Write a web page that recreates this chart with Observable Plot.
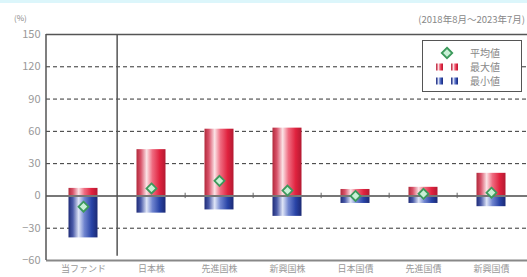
<!DOCTYPE html>
<html>
<head>
<meta charset="utf-8">
<script src="https://cdn.jsdelivr.net/npm/d3@7"></script>
<script src="https://cdn.jsdelivr.net/npm/@observablehq/plot@0.6"></script>
<style>
  html, body { margin: 0; padding: 0; background: #fff; }
  svg { display: block; }
</style>
</head>
<body>
<div id="chart"></div>
<script>
const categories = ["当ファンド", "日本株", "先進国株", "新興国株", "日本国債", "先進国債", "新興国債"];
const maxValues = [7, 43, 62, 63, 6, 8, 21];
const minValues = [-39, -16, -13, -19, -7, -7, -10];
const avgValues = [-10, 7, 14, 5, 0, 2, 3];
const yTicks = [-60, -30, 0, 30, 60, 90, 120, 150];
const gridTicks = [-30, 30, 60, 90, 120];
const legendLabels = ["平均値", "最大値", "最小値"];
const subtitle = "(2018年8月～2023年7月)";
const unitLabel = "(%)";

const rows = categories.map((c, i) => ({cat: c, max: maxValues[i], min: minValues[i], avg: avgValues[i]}));
const boundaries = categories.slice(2);

const font = "'Noto Sans CJK JP', 'Noto Sans', sans-serif";
const W = 527, H = 277;
const mL = 46, mT = 34, mB = 17, mR = 0;
const step = (W - mL - mR) / categories.length;

const plot = Plot.plot({
  width: W, height: H,
  marginLeft: mL, marginTop: mT, marginBottom: mB, marginRight: mR,
  style: {fontFamily: font, background: "transparent"},
  x: {domain: categories, padding: 0, label: null, tickSize: 0, tickPadding: 4},
  y: {domain: [-60, 150], ticks: yTicks, label: null, tickSize: 0, tickPadding: 5},
  marks: [
    Plot.ruleY(gridTicks, {stroke: "#333", strokeWidth: 1, strokeDasharray: "4,3"}),
    Plot.barY(rows, {x: "cat", y1: 0, y2: "max", fill: "url(#redGrad)", insetLeft: 19.5, insetRight: 19.5}),
    Plot.barY(rows, {x: "cat", y1: "min", y2: 0, fill: "url(#blueGrad)", insetLeft: 19.5, insetRight: 19.5}),
    Plot.ruleY([0], {stroke: "#777", strokeWidth: 2}),
    Plot.ruleX(boundaries, {x: d => d, y1: -2.5, y2: 2.5, dx: -step / 2, stroke: "#666", strokeWidth: 1}),
    Plot.ruleY([150], {stroke: "#555", strokeWidth: 1.5}),
    Plot.ruleY([-60], {stroke: "#888", strokeWidth: 2}),
    Plot.ruleX([categories[1]], {y1: -56, y2: 150, dx: -step / 2, stroke: "#555", strokeWidth: 1.5}),
    Plot.dot(rows, {x: "cat", y: "avg", symbol: "diamond2", r: 4.5, stroke: "#3c9a5c", strokeWidth: 1.8, fill: "#c9f0d6"}),
    Plot.axisY({ticks: yTicks, tickSize: 0, tickPadding: 6, fill: "#999", fontSize: 11, label: null}),
    Plot.axisX({tickSize: 0, tickPadding: 5, fill: "#999", fontSize: 9, label: null})
  ]
});

const svg = d3.select(plot);
const defs = svg.insert("defs", ":first-child");
const red = defs.append("linearGradient").attr("id", "redGrad").attr("x1", "0").attr("x2", "1").attr("y1", "0").attr("y2", "0");
[["0%", "#b22a3c"], ["15%", "#d9536a"], ["35%", "#fbe3e6"], ["55%", "#ef6b80"], ["80%", "#e0223e"], ["100%", "#b31a32"]]
  .forEach(([o, c]) => red.append("stop").attr("offset", o).attr("stop-color", c));
const blue = defs.append("linearGradient").attr("id", "blueGrad").attr("x1", "0").attr("x2", "1").attr("y1", "0").attr("y2", "0");
[["0%", "#1f2c78"], ["15%", "#4a5aa8"], ["35%", "#dfe5f7"], ["55%", "#6f84cf"], ["80%", "#2843a6"], ["100%", "#1c2a74"]]
  .forEach(([o, c]) => blue.append("stop").attr("offset", o).attr("stop-color", c));

// left axis line
svg.append("line").attr("x1", mL).attr("x2", mL).attr("y1", mT).attr("y2", H - mB).attr("stroke", "#555").attr("stroke-width", 1.5);

// top strip
svg.insert("rect", ":first-child").attr("x", 0).attr("y", 0).attr("width", W).attr("height", 3).attr("fill", "#dcf6fb");

// unit label and subtitle
svg.append("text").attr("x", 14).attr("y", 21).attr("text-anchor", "start").attr("font-size", 8).attr("fill", "#888").attr("font-family", font).text(unitLabel);
svg.append("text").attr("x", 525).attr("y", 23).attr("text-anchor", "end").attr("font-size", 9.5).attr("fill", "#888").attr("font-family", font).text(subtitle);

// legend
const lg = svg.append("g").attr("text-anchor", "start");
lg.append("rect").attr("x", 422.5).attr("y", 40.5).attr("width", 99).attr("height", 51).attr("fill", "#fff").attr("stroke", "#555").attr("stroke-width", 1);
const ly = [53, 67, 81];
lg.append("path").attr("d", d3.symbol(d3.symbolDiamond2, 70)()).attr("transform", `translate(447,${ly[0]})`)
  .attr("fill", "#c9f0d6").attr("stroke", "#3c9a5c").attr("stroke-width", 1.8);
[["url(#redGrad)", ly[1]], ["url(#blueGrad)", ly[2]]].forEach(([f, y]) => {
  lg.append("rect").attr("x", 436).attr("y", y - 3.5).attr("width", 7).attr("height", 7).attr("fill", f);
  lg.append("rect").attr("x", 451).attr("y", y - 3.5).attr("width", 7).attr("height", 7).attr("fill", f);
});
legendLabels.forEach((t, i) => {
  lg.append("text").attr("x", 470).attr("y", ly[i] + 4).attr("text-anchor", "start").attr("font-size", 10).attr("fill", "#888").attr("font-family", font).text(t);
});

document.getElementById("chart").appendChild(plot);
</script>
</body>
</html>
